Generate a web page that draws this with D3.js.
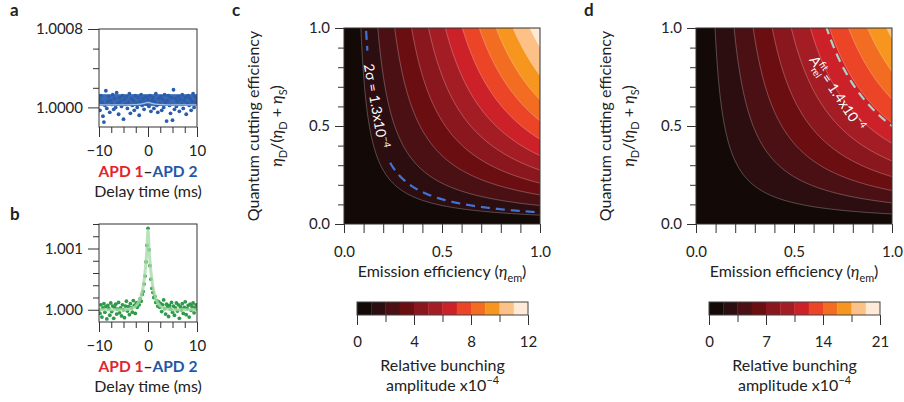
<!DOCTYPE html>
<html>
<head>
<meta charset="utf-8">
<script src="https://cdn.jsdelivr.net/npm/d3@7"></script>
<style>
  body { margin: 0; background: #fff; }
  svg text { font-family: Lato, "Open Sans", sans-serif; fill: #222; }
</style>
</head>
<body>
<svg id="fig" width="904" height="402"></svg>
<script>
// ---- data -------------------------------------------------------------

// delay times (ms) of the correlation bins, panels a and b
const delayTimes = d3.range(101).map(i => -10 + i * 0.2);

// panel a: g2 - 1 in units of 1e-5 (APD1-APD2, blue)
const aDev = [
  8, -3, 12, 5, -9, -15, 2, 17, -1, 6,
  11, -5, 7, 3, 13, -2, 9, 0, 15, 4,
  -7, 10, 6, 1, 12, -12, 8, 3, 11, -1,
  5, 14, -6, 9, 2, 7, -3, 12, 4, 0,
  10, -8, 6, 13, 2, 9, -2, 5, 11, 3,
  8, 1, 12, -4, 7, 10, -1, 6, 14, 2,
  -5, 9, 4, 11, -3, 8, 0, 13, 5, -14,
  7, 12, 2, -6, 10, -13, 18, -2, 9, 1,
  6, 11, -4, 8, 3, 13, -1, 7, 10, -7,
  4, 12, 2, 9, -3, 6, 14, 0, 11, 5, 8
];
// panel a: shaded band (g2) and fit line
const aBand = [1.000015, 1.000135];
const aFitT = [-10, -4, -2, -1, -0.5, 0, 0.5, 1, 2, 4, 10];
const aFitG = [1.000025, 1.000026, 1.00003, 1.000038, 1.000046, 1.00005, 1.000046, 1.000038, 1.00003, 1.000026, 1.000025];

// panel b: g2 - 1 in units of 1e-5 (green)
const bDev = [
  0, -6, 8, -12, 3, 10, -4, 5, -15, 7,
  2, -9, 11, -3, 6, -14, 4, 9, -7, 1,
  12, -5, 3, -10, 8, 0, -13, 6, 14, -2,
  5, -8, 10, 3, -4, 15, 7, -6, 11, 4,
  12, 8, 18, 14, 25, 30, 42, 55, 78, 105, 133, 98, 72, 50, 35, 28, 20, 22, 12, 15, 6,
  13, 4, 10, -3, 8, 16, 2, -7, 9, 5,
  -11, 7, 1, 12, -4, 6, -9, 3, 11, -2,
  8, -14, 5, 0, 10, -6, 4, 13, -8, 2,
  7, -12, 9, -1, 5, 11, -5, 3, 8, 1
];
const bFitT = [-10, -6, -4, -3, -2, -1.5, -1, -0.75, -0.5, -0.25, 0, 0.25, 0.5, 0.75, 1, 1.5, 2, 3, 4, 6, 10];
const bFitG = [1.0, 1.0, 1.00001, 1.00003, 1.00011, 1.0002, 1.00037, 1.00051, 1.0007, 1.00095, 1.0013,
               1.00095, 1.0007, 1.00051, 1.00037, 1.0002, 1.00011, 1.00003, 1.00001, 1.0, 1.0];

// panels c, d: relative bunching amplitude (x1e-4) at eta_em = 1, QC = 1
const cPeak = 11.6;
const dPeak = 18.0;
const cLevels = d3.range(12).map(k => k);          // 0,1,...,11
const dLevels = d3.range(12).map(k => k * 1.75);   // 0,1.75,...,19.25
const cDashLevel = 1.3;
const dDashLevel = 12.0;
const cBarTicks = [0, 4, 8, 12], cBarMinor = [2, 6, 10];
const dBarTicks = [0, 7, 14, 21], dBarMinor = [3.5, 10.5, 17.5];

const heatColors = ["#130a08", "#2d0e10", "#4b1014", "#6b0e12", "#8a171d", "#a51d24",
                    "#cc2129", "#ec4426", "#f26d22", "#f7961e", "#fdc087", "#feead6"];

// ---- layout -------------------------------------------------------------
const FONT = "Lato, 'Open Sans', sans-serif";
const TITLE = 16;
const svg = d3.select("#fig");

const aPlot = { x0: 99, x1: 197, y0: 29, y1: 127 };
const bPlot = { x0: 99, x1: 197, y0: 224, y1: 322 };
const cPlot = { x0: 344, x1: 540, y0: 28, y1: 224 };
const dPlot = { x0: 696, x1: 892, y0: 28, y1: 224 };

// model of the bunching amplitude for emission efficiency e and QC fraction q
function bunching(e, q, peak) {
  return peak * e * 2 * q / (1 + q);
}

function styleAxis(sel) {
  sel.attr("font-size", 15).attr("font-family", FONT);
  sel.select(".domain").remove();
  sel.selectAll("line").attr("stroke", "#333");
  sel.selectAll("text").attr("fill", "#222");
}

function leftAxis(g, y, x0, major, minor, fmt, big, small, pad) {
  g.append("g").attr("transform", `translate(${x0},0)`)
    .call(d3.axisLeft(y).tickValues(minor).tickSize(small).tickFormat(""))
    .call(styleAxis);
  g.append("g").attr("transform", `translate(${x0},0)`)
    .call(d3.axisLeft(y).tickValues(major).tickSize(big).tickPadding(pad).tickFormat(fmt))
    .call(styleAxis);
}

function bottomAxis(g, x, y0, major, minor, fmt, big, small, pad) {
  g.append("g").attr("transform", `translate(0,${y0})`)
    .call(d3.axisBottom(x).tickValues(minor).tickSize(small).tickFormat(""))
    .call(styleAxis);
  g.append("g").attr("transform", `translate(0,${y0})`)
    .call(d3.axisBottom(x).tickValues(major).tickSize(big).tickPadding(pad).tickFormat(fmt))
    .call(styleAxis);
}

function frame(g, p) {
  g.append("rect").attr("x", p.x0).attr("y", p.y0)
    .attr("width", p.x1 - p.x0).attr("height", p.y1 - p.y0)
    .attr("fill", "none").attr("stroke", "#333").attr("stroke-width", 1);
}

function clip(p, id) {
  svg.append("clipPath").attr("id", id).append("rect")
    .attr("x", p.x0).attr("y", p.y0).attr("width", p.x1 - p.x0).attr("height", p.y1 - p.y0);
}

// text with sub/superscripts: parts = [{t, sub, sup, it}]
function rich(text, parts, size) {
  let shift = 0;
  parts.forEach(p => {
    const target = p.sub ? size * 0.3 : p.sup ? -size * 0.42 : 0;
    const ts = text.append("tspan").text(p.t);
    if (target - shift !== 0) ts.attr("dy", target - shift);
    if (p.dx) ts.attr("dx", p.dx);
    if (p.sub || p.sup) ts.attr("font-size", size * 0.68);
    if (p.it) ts.attr("font-style", "italic");
    shift = target;
  });
}

function letter(t, x, y) {
  svg.append("text").attr("x", x).attr("y", y).text(t)
    .attr("font-size", 17).attr("font-weight", "bold").attr("fill", "#111");
}

// ---- correlation panels (a, b) -----------------------------------------
function corrPanel(p, id, yDomain, yMajor, yMinor, fmt, dev, color, band, fitT, fitG, fitColor, fitW, fitOp) {
  const x = d3.scaleLinear().domain([-10, 10]).range([p.x0, p.x1]);
  const y = d3.scaleLinear().domain(yDomain).range([p.y1, p.y0]);
  clip(p, id);
  const g = svg.append("g");
  const inner = g.append("g").attr("clip-path", `url(#${id})`);

  if (band) {
    inner.append("rect").attr("x", x(-10)).attr("width", x(10) - x(-10))
      .attr("y", y(band[1])).attr("height", y(band[0]) - y(band[1]))
      .attr("fill", color).attr("opacity", 0.92);
  }
  inner.selectAll("circle").data(dev).join("circle")
    .attr("cx", (d, i) => x(delayTimes[i]))
    .attr("cy", d => y(1 + d * 1e-5))
    .attr("r", 1.9)
    .attr("fill", color);
  const line = d3.line().x((d, i) => x(fitT[i])).y(d => y(d)).curve(d3.curveMonotoneX);
  inner.append("path").datum(fitG).attr("d", line)
    .attr("fill", "none").attr("stroke", fitColor).attr("stroke-width", fitW).attr("opacity", fitOp);

  frame(g, p);
  leftAxis(g, y, p.x0, yMajor, yMinor, fmt, 11, 6, 5);
  bottomAxis(g, x, p.y1, [-10, 0, 10], [-7.5, -5, -2.5, 2.5, 5, 7.5], d3.format("d"), 10, 6, 8);

  const cx = (p.x0 + p.x1) / 2;
  const t1 = g.append("text").attr("x", cx).attr("y", p.y1 + 50)
    .attr("text-anchor", "middle").attr("font-size", 15.5).attr("font-weight", "bold");
  t1.append("tspan").text("APD 1").attr("fill", "#e0252f");
  t1.append("tspan").text("\u2013").attr("fill", "#222");
  t1.append("tspan").text("APD 2").attr("fill", "#1f58a8");
  g.append("text").attr("x", cx).attr("y", p.y1 + 70)
    .attr("text-anchor", "middle").attr("font-size", TITLE).text("Delay time (ms)");
}

corrPanel(aPlot, "clipA", [0.9998, 1.0008], [1.0, 1.0008], [1.0002, 1.0004, 1.0006],
  d3.format(".4f"), aDev, "#2b5dab", aBand, aFitT, aFitG, "#a9c6ec", 1.3, 0.95);
corrPanel(bPlot, "clipB", [0.9998, 1.0014], [1.0, 1.001], [1.0002, 1.0004, 1.0006, 1.0008, 1.0012, 1.0014],
  d3.format(".3f"), bDev, "#2f9a4a", null, bFitT, bFitG, "#a6dba8", 3, 0.8);

letter("a", 10, 16);
letter("b", 10, 220);

// ---- contour panels (c, d) ---------------------------------------------
function heatPanel(p, id, peak, levels, dashLevel, dashColor, maskId) {
  const x = d3.scaleLinear().domain([0, 1]).range([p.x0, p.x1]);
  const y = d3.scaleLinear().domain([0, 1]).range([p.y1, p.y0]);
  const n = 260, lo = -0.05, hi = 1.05, step = (hi - lo) / (n - 1);
  const vals = new Array(n * n);
  for (let j = 0; j < n; j++) {
    for (let i = 0; i < n; i++) {
      vals[j * n + i] = bunching(lo + i * step, lo + j * step, peak);
    }
  }
  const proj = d3.geoTransform({
    point(px, py) { this.stream.point(x(lo + (px - 0.5) * step), y(lo + (py - 0.5) * step)); }
  });
  const path = d3.geoPath(proj);

  clip(p, id);
  const g = svg.append("g");
  const inner = g.append("g").attr("clip-path", `url(#${id})`);
  inner.append("rect").attr("x", p.x0).attr("y", p.y0)
    .attr("width", p.x1 - p.x0).attr("height", p.y1 - p.y0).attr("fill", heatColors[0]);

  const bands = d3.contours().size([n, n]).thresholds(levels.slice(1))(vals);
  inner.selectAll("path.band").data(bands).join("path").attr("class", "band")
    .attr("d", path).attr("fill", (d, i) => heatColors[i + 1]);
  inner.selectAll("path.iso").data(bands).join("path").attr("class", "iso")
    .attr("d", path).attr("fill", "none")
    .attr("stroke", "#fff").attr("stroke-opacity", 0.45).attr("stroke-width", 0.6);

  const dash = d3.contours().size([n, n]).thresholds([dashLevel])(vals);
  const dp = inner.append("path").datum(dash[0]).attr("d", path).attr("fill", "none")
    .attr("stroke", dashColor).attr("stroke-width", 2.2).attr("stroke-dasharray", "9,6");
  if (maskId) dp.attr("mask", `url(#${maskId})`);

  frame(g, p);
  leftAxis(g, y, p.x0, [0, 0.5, 1], [0.1, 0.2, 0.3, 0.4, 0.6, 0.7, 0.8, 0.9], d3.format(".1f"), 9, 6, 5);
  bottomAxis(g, x, p.y1, [0, 0.5, 1], [0.1, 0.2, 0.3, 0.4, 0.6, 0.7, 0.8, 0.9], d3.format(".1f"), 9, 9, 13);

  const cx = (p.x0 + p.x1) / 2, cy = (p.y0 + p.y1) / 2;
  const xl = g.append("text").attr("x", cx).attr("y", p.y1 + 53)
    .attr("text-anchor", "middle").attr("font-size", TITLE);
  rich(xl, [{ t: "Emission efficiency (" }, { t: "\u03B7", it: true }, { t: "em", sub: true }, { t: ")" }], TITLE);

  g.append("text").attr("transform", `translate(${p.x0 - 85},${cy}) rotate(-90)`)
    .attr("text-anchor", "middle").attr("font-size", TITLE).text("Quantum cutting efficiency");
  const yl2 = g.append("text").attr("transform", `translate(${p.x0 - 62},${cy}) rotate(-90)`)
    .attr("text-anchor", "middle").attr("font-size", TITLE);
  rich(yl2, [{ t: "\u03B7", it: true }, { t: "D", sub: true }, { t: "/(" }, { t: "\u03B7", it: true },
             { t: "D", sub: true }, { t: " + " }, { t: "\u03B7", it: true }, { t: "S", sub: true }, { t: ")" }], TITLE);
  return g;
}

// mask that opens a gap in the dashed 2-sigma line under its label
const cLabelPos = { x: 376, y: 106, angle: 80 };
const maskC = svg.append("mask").attr("id", "maskC");
maskC.append("rect").attr("width", 904).attr("height", 402).attr("fill", "#fff");
maskC.append("rect").attr("x", -56).attr("y", -9).attr("width", 112).attr("height", 18)
  .attr("transform", `translate(${cLabelPos.x},${cLabelPos.y}) rotate(${cLabelPos.angle})`)
  .attr("fill", "#000");

heatPanel(cPlot, "clipC", cPeak, cLevels, cDashLevel, "#3f74d6", "maskC");
heatPanel(dPlot, "clipD", dPeak, dLevels, dDashLevel, "#a6d6c8", null);

// labels on the dashed contours
const lc = svg.append("text")
  .attr("transform", `translate(${cLabelPos.x},${cLabelPos.y}) rotate(${cLabelPos.angle})`)
  .attr("text-anchor", "middle").attr("dy", "0.35em").attr("font-size", 14);
rich(lc, [{ t: "2\u03C3 = 1.3x10" }, { t: "\u22124", sup: true }], 14);
lc.selectAll("tspan").attr("fill", "#fff");

const ld = svg.append("text").attr("transform", "translate(833,96) rotate(56)")
  .attr("text-anchor", "middle").attr("font-size", 14);
rich(ld, [{ t: "A" }, { t: "rel", sub: true }, { t: "fit", sup: true, dx: -11 }, { t: " = 1.4x10" }, { t: "\u22124", sup: true }], 14);
ld.selectAll("tspan").attr("fill", "#fff");

letter("c", 232, 16);
letter("d", 584, 16);

// ---- colour bars ---------------------------------------------------------
function colorBar(x0, x1, maxVal, major, minor) {
  const y0 = 302, y1 = 315;
  const x = d3.scaleLinear().domain([0, maxVal]).range([x0, x1]);
  const step = maxVal / heatColors.length;
  const g = svg.append("g");
  g.selectAll("rect.cb").data(heatColors).join("rect").attr("class", "cb")
    .attr("x", (d, i) => x(i * step)).attr("width", x(step) - x(0) + 0.3)
    .attr("y", y0).attr("height", y1 - y0).attr("fill", d => d);
  g.append("rect").attr("x", x0).attr("y", y0).attr("width", x1 - x0).attr("height", y1 - y0)
    .attr("fill", "none").attr("stroke", "#444").attr("stroke-width", 1);
  bottomAxis(g, x, y1, major, minor, d3.format("d"), 10, 7, 11);
  const cx = (x0 + x1) / 2;
  g.append("text").attr("x", cx).attr("y", 371).attr("text-anchor", "middle")
    .attr("font-size", TITLE).text("Relative bunching");
  const t = g.append("text").attr("x", cx).attr("y", 391).attr("text-anchor", "middle").attr("font-size", TITLE);
  rich(t, [{ t: "amplitude x10" }, { t: "\u22124", sup: true }], TITLE);
}

colorBar(357, 528, 12, cBarTicks, cBarMinor);
colorBar(709, 880, 21, dBarTicks, dBarMinor);
</script>
</body>
</html>
